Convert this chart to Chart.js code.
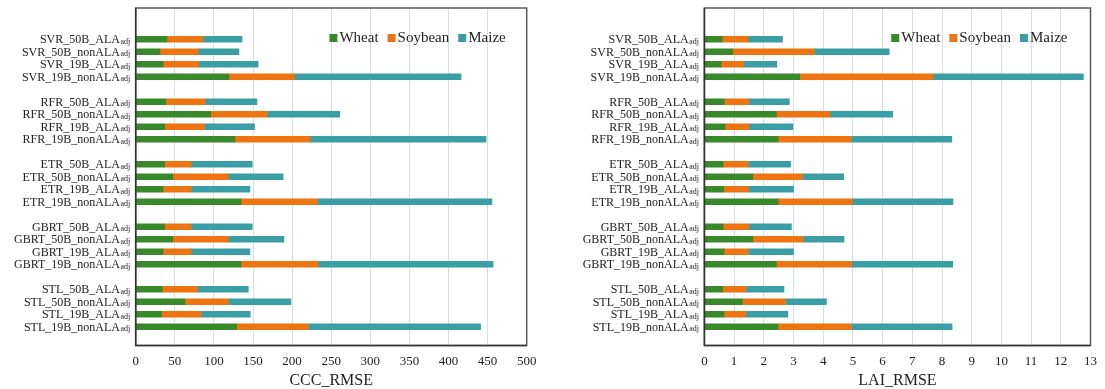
<!DOCTYPE html>
<html>
<head>
<meta charset="utf-8">
<script src="https://cdn.jsdelivr.net/npm/chart.js@4.4.1/dist/chart.umd.min.js"></script>
<style>
  html, body { margin: 0; padding: 0; background: #ffffff; }
  .panel { position: absolute; top: 0; height: 389px; }
  #leftPanel { left: 0; width: 552px; }
  #rightPanel { left: 552px; width: 553px; }
</style>
</head>
<body>
<div class="panel" id="leftPanel"><canvas id="cccChart"></canvas></div>
<div class="panel" id="rightPanel"><canvas id="laiChart"></canvas></div>
<script>
// Models and feature-set variants (rows, top to bottom)
const models = ['SVR', 'RFR', 'ETR', 'GBRT', 'STL'];
const variants = ['50B_ALA', '50B_nonALA', '19B_ALA', '19B_nonALA'];
const labelSuffix = 'adj';
const cropNames = ['Wheat', 'Soybean', 'Maize'];

// CCC RMSE per crop, in row order (SVR 50B_ALA ... STL 19B_nonALA)
const cccWheat   = [40, 31, 35, 119,   38.5, 96, 37, 127,   37, 47.5, 35, 134.5,   37, 47.5, 35, 134.5,   34, 63, 33, 129];
const cccSoybean = [46, 49, 45.5, 84,  50.5, 72, 51, 96,    34, 71, 36, 98,        34, 71, 36, 99,        45, 55.5, 50.5, 92];
const cccMaize   = [50, 52, 76, 213,   66, 93, 64, 225,     78, 70, 75, 223,       78, 71, 75, 223.5,     65, 80, 63, 220];

// LAI RMSE per crop, same row order
const laiWheat   = [0.60, 0.95, 0.56, 3.21,  0.67, 2.42, 0.70, 2.48,  0.63, 1.63, 0.65, 2.48,  0.63, 1.63, 0.66, 2.42,  0.62, 1.28, 0.66, 2.48];
const laiSoybean = [0.87, 2.75, 0.77, 4.49,  0.83, 1.81, 0.80, 2.46,  0.85, 1.68, 0.83, 2.50,  0.87, 1.70, 0.82, 2.53,  0.78, 1.45, 0.74, 2.47];
const laiMaize   = [1.16, 2.52, 1.11, 5.06,  1.36, 2.11, 1.48, 3.39,  1.42, 1.38, 1.52, 3.39,  1.43, 1.37, 1.52, 3.41,  1.28, 1.38, 1.41, 3.39];

const cropColors = ['#37892a', '#ee7411', '#3a9ea5'];
const serif = "'Liberation Serif', 'DejaVu Serif', serif";

// Category axis: two empty rows on top, one empty row after each model group
function buildRows() {
  const rows = ['', ''];
  models.forEach(m => {
    variants.forEach(v => rows.push(m + '_' + v));
    rows.push('');
  });
  return rows;
}
const rowLabels = buildRows();

function spread(values) {
  const out = [null, null];
  let k = 0;
  models.forEach(() => {
    variants.forEach(() => out.push(values[k++]));
    out.push(null);
  });
  return out;
}

// Row labels with a small "adj" subscript
const rowLabelPlugin = {
  id: 'rowLabels',
  afterDraw(chart) {
    const ctx = chart.ctx;
    const y = chart.scales.y;
    const xEnd = chart.chartArea.left - 5.5;
    ctx.save();
    ctx.fillStyle = '#222';
    ctx.textBaseline = 'alphabetic';
    rowLabels.forEach((lab, i) => {
      if (!lab) return;
      const py = y.getPixelForValue(i) + 4;
      ctx.font = '8px ' + serif;
      const sw = ctx.measureText(labelSuffix).width;
      ctx.textAlign = 'left';
      ctx.fillText(labelSuffix, xEnd - sw, py + 0.5);
      ctx.font = '12px ' + serif;
      ctx.textAlign = 'right';
      ctx.fillText(lab, xEnd - sw - 0.5, py);
    });
    ctx.restore();
  }
};

// Plot frame and in-plot legend
const framePlugin = {
  id: 'frameLegend',
  afterDraw(chart, args, opts) {
    const ctx = chart.ctx;
    const a = chart.chartArea;
    ctx.save();
    ctx.strokeStyle = '#5a5a5a';
    ctx.lineWidth = 1.5;
    ctx.strokeRect(a.left, a.top, a.right - a.left, a.bottom - a.top);
    // darker value/category axis lines
    ctx.strokeStyle = '#333';
    ctx.beginPath();
    ctx.moveTo(a.left, a.top);
    ctx.lineTo(a.left, a.bottom);
    ctx.lineTo(a.right, a.bottom);
    ctx.stroke();

    ctx.font = '15px ' + serif;
    ctx.textBaseline = 'middle';
    ctx.textAlign = 'left';
    const box = 8, gapBox = 2, gapItem = 9;
    const widths = cropNames.map(n => ctx.measureText(n).width);
    let total = 0;
    widths.forEach((w, i) => { total += box + gapBox + w + (i < widths.length - 1 ? gapItem : 0); });
    let x = a.right - opts.rightInset - total;
    const cy = a.top + 30;
    cropNames.forEach((n, i) => {
      ctx.fillStyle = cropColors[i];
      ctx.fillRect(x, cy - box / 2, box, box);
      x += box + gapBox;
      ctx.fillStyle = '#222';
      ctx.fillText(n, x, cy + 0.5);
      x += widths[i] + gapItem;
    });
    ctx.restore();
  }
};

function makeChart(canvasId, series, xMax, xStep, title, yWidth, padRight, legendInset) {
  return new Chart(document.getElementById(canvasId), {
    type: 'bar',
    data: {
      labels: rowLabels,
      datasets: series.map((vals, i) => ({
        label: cropNames[i],
        data: spread(vals),
        backgroundColor: cropColors[i],
        borderWidth: 0,
        barThickness: 6
      }))
    },
    options: {
      indexAxis: 'y',
      responsive: true,
      maintainAspectRatio: false,
      animation: false,
      layout: { padding: { left: 0, right: padRight, top: 8, bottom: 0 } },
      plugins: {
        legend: { display: false },
        tooltip: { enabled: false },
        frameLegend: { rightInset: legendInset }
      },
      scales: {
        x: {
          stacked: true,
          min: 0,
          max: xMax,
          afterFit(s) { s.height = 43.5; },
          ticks: {
            stepSize: xStep,
            padding: 8,
            color: '#222',
            font: { family: serif, size: 13 }
          },
          grid: { color: '#d8dde8', lineWidth: 1, drawTicks: false },
          border: { display: false },
          title: {
            display: true,
            text: title,
            color: '#222',
            padding: { top: 0, bottom: -1 },
            font: { family: serif, size: 16 }
          }
        },
        y: {
          stacked: true,
          afterFit(s) { s.width = yWidth; },
          ticks: { display: false },
          grid: { display: false },
          border: { display: false }
        }
      }
    },
    plugins: [rowLabelPlugin, framePlugin]
  });
}

makeChart('cccChart', [cccWheat, cccSoybean, cccMaize], 500, 50, 'CCC_RMSE', 135.7, 25.3, 21);
makeChart('laiChart', [laiWheat, laiSoybean, laiMaize], 13, 1, 'LAI_RMSE', 152.4, 5, 23);
</script>
</body>
</html>
